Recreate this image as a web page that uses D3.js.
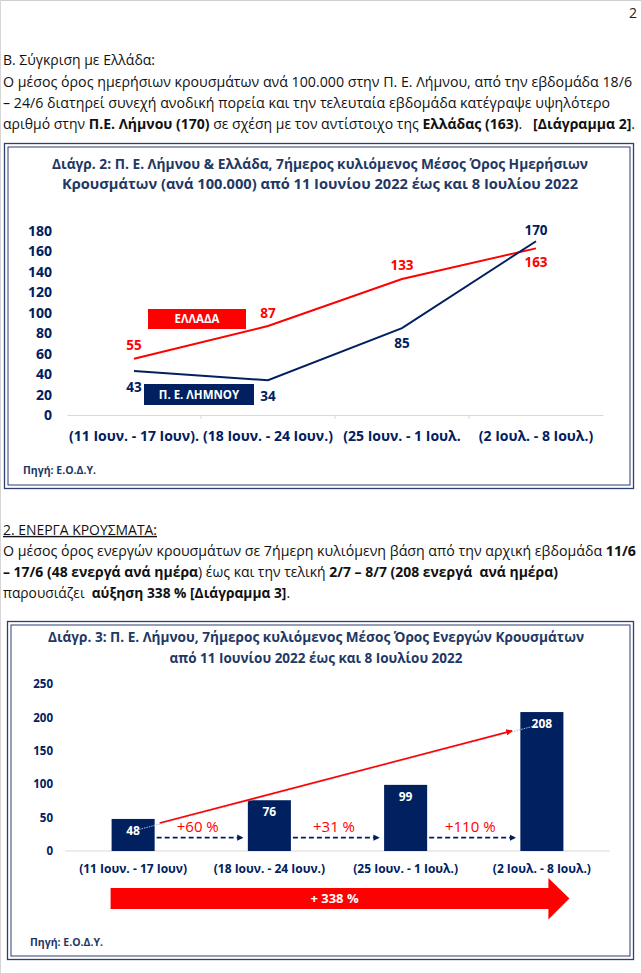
<!DOCTYPE html>
<html>
<head>
<meta charset="utf-8">
<script src="https://cdn.jsdelivr.net/npm/d3@7"></script>
<style>
  html, body { margin: 0; padding: 0; background: #fff; }
  svg { display: block; font-family: "Open Sans", "Noto Sans", sans-serif; }
  text { white-space: pre; }
</style>
</head>
<body>
<svg id="page" width="641" height="973"></svg>
<script>
// ---------- DATA ----------
const weeks1 = ["(11 Ιουν. - 17 Ιουν).", "(18 Ιουν. - 24 Ιουν.)", "(25 Ιουν. - 1 Ιουλ.", "(2 Ιουλ. - 8 Ιουλ.)"];
const greece = [55, 87, 133, 163];
const lemnos = [43, 34, 85, 170];
const yTicks1 = [0, 20, 40, 60, 80, 100, 120, 140, 160, 180];
const seriesNames1 = ["ΕΛΛΑΔΑ", "Π. Ε. ΛΗΜΝΟΥ"];

const weeks2 = ["(11 Ιουν. - 17 Ιουν)", "(18 Ιουν. - 24 Ιουν.)", "(25 Ιουν. - 1 Ιουλ.)", "(2 Ιουλ. - 8 Ιουλ.)"];
const active = [48, 76, 99, 208];
const weeklyChange = ["+60 %", "+31 %", "+110 %"];
const totalChange = "+ 338 %";
const yTicks2 = [0, 50, 100, 150, 200, 250];

const title1 = ["Διάγρ. 2: Π. Ε. Λήμνου & Ελλάδα, 7ήμερος κυλιόμενος Μέσος Όρος Ημερήσιων",
                "Κρουσμάτων (ανά 100.000) από 11 Ιουνίου 2022 έως και 8 Ιουλίου 2022"];
const title2 = ["Διάγρ. 3: Π. Ε. Λήμνου, 7ήμερος κυλιόμενος Μέσος Όρος Ενεργών Κρουσμάτων",
                "από 11 Ιουνίου 2022 έως και 8 Ιουλίου 2022"];
const source = "Πηγή: Ε.Ο.Δ.Υ.";

// ---------- COLORS ----------
const NAVY = "#002060", RED = "#FF0000", TITLE = "#1F3864", BORDER = "#2E3F70";

const svg = d3.select("#page");

// page edges
svg.append("line").attr("x1", 0).attr("x2", 641).attr("y1", 0.5).attr("y2", 0.5).attr("stroke", "#cfcfcf");
svg.append("line").attr("x1", 0.5).attr("x2", 0.5).attr("y1", 0).attr("y2", 973).attr("stroke", "#d6d6d6");

// page number
svg.append("text").attr("x", 633).attr("y", 13).attr("dy", "0.35em").attr("text-anchor", "middle")
  .attr("font-size", 14).attr("fill", "#222").text("2");

// ---------- body text ----------
function para(x, y, width, parts, opts = {}) {
  const t = svg.append("text").attr("x", x).attr("y", y).attr("dy", "0.35em")
    .attr("font-size", opts.size || 14).attr("fill", "#111").attr("xml:space", "preserve");
  parts.forEach(p => {
    const s = t.append("tspan").text(p[0]);
    if (p[1]) s.attr("font-weight", "bold");
  });
  if (opts.underline) t.attr("text-decoration", "underline");
  if (width) t.attr("textLength", width).attr("lengthAdjust", "spacingAndGlyphs");
  return t;
}

para(3, 60, 152, [["Β. Σύγκριση με Ελλάδα:"]]);
para(3, 82, 629, [["Ο μέσος όρος ημερήσιων κρουσμάτων ανά 100.000 στην Π. Ε. Λήμνου, από την εβδομάδα 18/6"]]);
para(3, 103, 607, [["– 24/6 διατηρεί συνεχή ανοδική πορεία και την τελευταία εβδομάδα κατέγραψε υψηλότερο"]]);
para(3, 124, 632, [["αριθμό στην "], ["Π.Ε. Λήμνου (170)", 1], [" σε σχέση με τον αντίστοιχο της "], ["Ελλάδας (163)", 1], [".   "], ["[Διάγραμμα 2]", 1], ["."]]);

para(3, 530, 154, [["2. ΕΝΕΡΓΑ ΚΡΟΥΣΜΑΤΑ:"]], { underline: true });
para(3, 551, 633, [["Ο μέσος όρος ενεργών κρουσμάτων σε 7ήμερη κυλιόμενη βάση από την αρχική εβδομάδα "], ["11/6", 1]]);
para(3, 572, 555, [["– 17/6 (48 ενεργά ανά ημέρα", 1], [") έως και την τελική "], ["2/7 – 8/7 (208 ενεργά  ανά ημέρα)", 1]]);
para(3, 593, 287, [["παρουσιάζει  "], ["αύξηση 338 %", 1], [" "], ["[Διάγραμμα 3]", 1], ["."]]);

// ---------- chart frames ----------
function frame(x0, y0, x1, y1) {
  svg.append("rect").attr("x", x0).attr("y", y0).attr("width", x1 - x0).attr("height", y1 - y0)
    .attr("fill", "#fff").attr("stroke", BORDER).attr("stroke-width", 1.3);
  svg.append("rect").attr("x", x0 + 3.5).attr("y", y0 + 3.5).attr("width", x1 - x0 - 7).attr("height", y1 - y0 - 7)
    .attr("fill", "none").attr("stroke", BORDER).attr("stroke-width", 1);
}
frame(4.5, 143.5, 633.5, 488.5);
frame(7.5, 621.5, 633.5, 959.5);

function titleLines(lines, cx, ys, widths) {
  lines.forEach((l, i) => {
    svg.append("text").attr("x", cx).attr("y", ys[i]).attr("dy", "0.35em").attr("text-anchor", "middle")
      .attr("font-size", 14).attr("font-weight", "bold").attr("fill", TITLE)
      .attr("textLength", widths[i]).attr("lengthAdjust", "spacingAndGlyphs").text(l);
  });
}
titleLines(title1, 320, [164, 184], [536, 516]);
titleLines(title2, 316, [637, 658], [536, 293]);

// ---------- CHART 1 (lines) ----------
const g1 = svg.append("g");
const x1 = d3.scaleBand().domain(weeks1).range([67, 603]);
const y1 = d3.scaleLinear().domain([0, 180]).range([415, 231]);
const cx1 = d => x1(d) + x1.bandwidth() / 2;

const ax1 = g1.append("g").attr("transform", "translate(0,415)")
  .call(d3.axisBottom(x1).tickSize(0).tickSizeOuter(0).tickPadding(16));
ax1.select(".domain").attr("stroke", "#D9D9D9");
ax1.selectAll("text").attr("font-size", 14).attr("font-weight", "bold").attr("fill", NAVY)
  .attr("font-family", "Open Sans, sans-serif");
// category separators
g1.selectAll(".sep").data(weeks1.slice(1)).join("line")
  .attr("x1", d => x1(d)).attr("x2", d => x1(d)).attr("y1", 415).attr("y2", 419).attr("stroke", "#D9D9D9");

const ay1 = g1.append("g").attr("transform", "translate(67,0)")
  .call(d3.axisLeft(y1).tickValues(yTicks1).tickSize(0).tickPadding(15));
ay1.select(".domain").remove();
ay1.selectAll("text").attr("font-size", 14).attr("font-weight", "bold").attr("fill", NAVY)
  .attr("font-family", "Open Sans, sans-serif");

const line1 = d3.line().x((d, i) => cx1(weeks1[i])).y(d => y1(d));
g1.append("path").datum(greece).attr("d", line1).attr("fill", "none").attr("stroke", RED).attr("stroke-width", 2);
g1.append("path").datum(lemnos).attr("d", line1).attr("fill", "none").attr("stroke", NAVY).attr("stroke-width", 2);

// data labels
const gOff = [-14, -13, -14, 14];
const lOff = [16, 16, 15, -11];
g1.selectAll(".lg").data(greece).join("text")
  .attr("x", (d, i) => cx1(weeks1[i])).attr("y", (d, i) => y1(d) + gOff[i]).attr("dy", "0.35em")
  .attr("text-anchor", "middle").attr("font-size", 13.5).attr("font-weight", "bold").attr("fill", RED).text(d => d);
g1.selectAll(".ll").data(lemnos).join("text")
  .attr("x", (d, i) => cx1(weeks1[i])).attr("y", (d, i) => y1(d) + lOff[i]).attr("dy", "0.35em")
  .attr("text-anchor", "middle").attr("font-size", 13.5).attr("font-weight", "bold").attr("fill", NAVY).text(d => d);

// legend boxes
const legend = [
  { name: seriesNames1[0], color: RED, x: 148, y: 309, w: 98, h: 20 },
  { name: seriesNames1[1], color: NAVY, x: 144, y: 384, w: 110, h: 21 }
];
legend.forEach(l => {
  g1.append("rect").attr("x", l.x).attr("y", l.y).attr("width", l.w).attr("height", l.h).attr("fill", l.color);
  g1.append("text").attr("x", l.x + l.w / 2).attr("y", l.y + l.h / 2).attr("dy", "0.35em")
    .attr("text-anchor", "middle").attr("font-size", 11.5).attr("font-weight", "bold").attr("fill", "#fff").text(l.name);
});

svg.append("text").attr("x", 23).attr("y", 470).attr("dy", "0.35em").attr("font-size", 10.5)
  .attr("font-weight", "bold").attr("fill", TITLE).text(source);

// ---------- CHART 2 (bars) ----------
const g2 = svg.append("g");
const x2 = d3.scaleBand().domain(weeks2).range([65, 610]).paddingInner(0.684).paddingOuter(0.342);
const y2 = d3.scaleLinear().domain([0, 250]).range([851, 684]);

const ax2 = g2.append("g").attr("transform", "translate(0,851)")
  .call(d3.axisBottom(x2).tickSize(0).tickSizeOuter(0).tickPadding(13));
ax2.select(".domain").attr("stroke", "#D9D9D9").attr("d", `M65,0H610`);
ax2.selectAll("text").attr("font-size", 12).attr("font-weight", "bold").attr("fill", NAVY)
  .attr("font-family", "Open Sans, sans-serif");

const ay2 = g2.append("g").attr("transform", "translate(65,0)")
  .call(d3.axisLeft(y2).tickValues(yTicks2).tickSize(0).tickPadding(12));
ay2.select(".domain").remove();
ay2.selectAll("text").attr("font-size", 11.5).attr("font-weight", "bold").attr("fill", NAVY)
  .attr("font-family", "Open Sans, sans-serif");

g2.selectAll(".bar").data(active).join("rect")
  .attr("x", (d, i) => x2(weeks2[i])).attr("y", d => y2(d))
  .attr("width", x2.bandwidth()).attr("height", d => y2(0) - y2(d)).attr("fill", NAVY);

const barLabelPos = (d, i) => [x2(weeks2[i]) + x2.bandwidth() / 2, y2(d) + 12];

// trend line between first and last bar labels
const p0 = barLabelPos(active[0], 0), p1 = barLabelPos(active[3], 3);
const lerp = t => [p0[0] + (p1[0] - p0[0]) * t, p0[1] + (p1[1] - p0[1]) * t];
g2.append("line").attr("x1", p0[0] + 6).attr("y1", p0[1] - 1.5).attr("x2", p1[0] - 4).attr("y2", p1[1] + 1)
  .attr("stroke", "#9DC3E6").attr("stroke-width", 1).attr("stroke-dasharray", "1.5,1");

const defs = svg.append("defs");
defs.append("marker").attr("id", "redHead").attr("viewBox", "0 0 10 10").attr("refX", 9).attr("refY", 5)
  .attr("markerWidth", 4).attr("markerHeight", 4).attr("orient", "auto")
  .append("path").attr("d", "M0,0L10,5L0,10z").attr("fill", RED);
defs.append("marker").attr("id", "navyHead").attr("viewBox", "0 0 10 10").attr("refX", 9).attr("refY", 5)
  .attr("markerWidth", 3.5).attr("markerHeight", 3.5).attr("orient", "auto")
  .append("path").attr("d", "M0,0L10,5L0,10z").attr("fill", NAVY);

const a = lerp(0.065), b = lerp(0.927);
g2.append("line").attr("x1", a[0]).attr("y1", a[1] - 1).attr("x2", b[0]).attr("y2", b[1] - 1)
  .attr("stroke", RED).attr("stroke-width", 1.6).attr("marker-end", "url(#redHead)");

g2.selectAll(".bl").data(active).join("text")
  .attr("x", (d, i) => barLabelPos(d, i)[0]).attr("y", (d, i) => barLabelPos(d, i)[1]).attr("dy", "0.35em")
  .attr("text-anchor", "middle").attr("font-size", 12).attr("font-weight", "bold").attr("fill", "#fff").text(d => d);

// dashed week-to-week arrows and percentages
weeklyChange.forEach((c, i) => {
  const xa = x2(weeks2[i]) + x2.bandwidth() + 2;
  const xb = x2(weeks2[i + 1]) - 5;
  g2.append("line").attr("x1", xa).attr("x2", xb).attr("y1", y2(20)).attr("y2", y2(20))
    .attr("stroke", NAVY).attr("stroke-width", 1.8).attr("stroke-dasharray", "5,3")
    .attr("marker-end", "url(#navyHead)");
  g2.append("text").attr("x", (xa + xb) / 2 - 2).attr("y", y2(36)).attr("dy", "0.35em")
    .attr("text-anchor", "middle").attr("font-size", 15).attr("fill", RED).text(c);
});

// big total arrow
const bx0 = x2(weeks2[0]) - 1, bx1 = x2(weeks2[3]) + x2.bandwidth() + 6;
const by = 898.5;
g2.append("path")
  .attr("d", `M${bx0},${by - 10.5}H${bx1 - 21}V${by - 20.5}L${bx1},${by}L${bx1 - 21},${by + 21}V${by + 10.5}H${bx0}Z`)
  .attr("fill", RED);
g2.append("text").attr("x", (bx0 + bx1 - 21) / 2 + 5).attr("y", by).attr("dy", "0.35em").attr("text-anchor", "middle")
  .attr("font-size", 13).attr("font-weight", "bold").attr("fill", "#fff").text(totalChange);

svg.append("text").attr("x", 30).attr("y", 942).attr("dy", "0.35em").attr("font-size", 10.5)
  .attr("font-weight", "bold").attr("fill", TITLE).text(source);
</script>
</body>
</html>
